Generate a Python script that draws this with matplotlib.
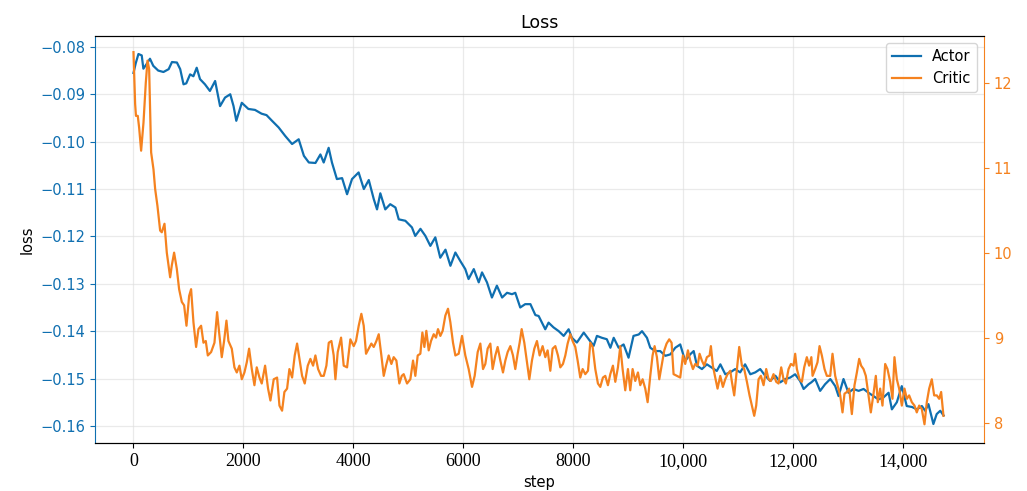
import numpy as np
import matplotlib
matplotlib.use('Agg')
import matplotlib.pyplot as plt

# Actor loss (left axis)
actor_steps = [0, 40, 90, 150, 180, 240, 300, 360, 450, 545, 640, 700, 790, 850, 910, 960,
               1030, 1090, 1150, 1210, 1300, 1390, 1485, 1575, 1665, 1760, 1820, 1870, 1970,
               2090, 2210, 2330, 2420, 2520, 2640, 2760, 2885, 3005, 3100, 3190, 3310, 3400,
               3460, 3550, 3610, 3700, 3795, 3885, 3975, 4095, 4190, 4280, 4370, 4430, 4490,
               4580, 4670, 4765, 4825, 4945, 5065, 5125, 5220, 5310, 5400, 5490, 5580, 5675,
               5765, 5855, 5945, 6035, 6095, 6190, 6280, 6340, 6430, 6520, 6610, 6705, 6795,
               6885, 6945, 7035, 7125, 7220, 7310, 7370, 7430, 7490, 7550, 7640, 7735, 7825,
               7915, 7975, 8065, 8190, 8280, 8370, 8430, 8520, 8610, 8675, 8735, 8825, 8915,
               9005, 9095, 9190, 9250, 9340, 9400, 9490, 9580, 9675, 9765, 9855, 9945, 10035,
               10125, 10190, 10250, 10340, 10430, 10520, 10610, 10675, 10765, 10855, 10945,
               11035, 11125, 11220, 11310, 11400, 11490, 11580, 11675, 11765, 11855, 11945,
               12035, 12125, 12190, 12280, 12330, 12400, 12490, 12580, 12675, 12765, 12825,
               12915, 13005, 13095, 13190, 13280, 13370, 13460, 13550, 13640, 13735, 13795,
               13885, 13975, 14065, 14160, 14250, 14340, 14400, 14460, 14550, 14610, 14675, 14735]
actor_loss = [-0.0855, -0.0835, -0.0815, -0.0818, -0.0846, -0.0836, -0.0825, -0.0840, -0.0850,
              -0.0853, -0.0847, -0.0832, -0.0833, -0.0847, -0.0879, -0.0877, -0.0858, -0.0862,
              -0.0844, -0.0868, -0.0879, -0.0893, -0.0872, -0.0925, -0.0907, -0.0900, -0.0925,
              -0.0956, -0.0918, -0.0931, -0.0933, -0.0941, -0.0944, -0.0956, -0.0970, -0.0988,
              -0.1005, -0.0995, -0.1030, -0.1044, -0.1045, -0.1027, -0.1044, -0.1013, -0.1044,
              -0.1079, -0.1077, -0.1111, -0.1079, -0.1065, -0.1100, -0.1081, -0.1121, -0.1143,
              -0.1109, -0.1143, -0.1132, -0.1139, -0.1164, -0.1167, -0.1181, -0.1199, -0.1184,
              -0.1199, -0.1220, -0.1202, -0.1245, -0.1228, -0.1262, -0.1234, -0.1252, -0.1269,
              -0.1290, -0.1269, -0.1297, -0.1276, -0.1297, -0.1329, -0.1304, -0.1329, -0.1319,
              -0.1322, -0.1319, -0.1350, -0.1343, -0.1343, -0.1366, -0.1368, -0.1382, -0.1396,
              -0.1382, -0.1392, -0.1400, -0.1410, -0.1396, -0.1414, -0.1424, -0.1403, -0.1417,
              -0.1431, -0.1410, -0.1414, -0.1417, -0.1435, -0.1414, -0.1435, -0.1428, -0.1456,
              -0.1410, -0.1407, -0.1400, -0.1414, -0.1435, -0.1442, -0.1442, -0.1452, -0.1449,
              -0.1435, -0.1428, -0.1463, -0.1449, -0.1442, -0.1473, -0.1480, -0.1470, -0.1477,
              -0.1484, -0.1470, -0.1491, -0.1487, -0.1480, -0.1487, -0.1470, -0.1491, -0.1487,
              -0.1480, -0.1494, -0.1505, -0.1494, -0.1508, -0.1501, -0.1498, -0.1491, -0.1505,
              -0.1522, -0.1512, -0.1508, -0.1501, -0.1526, -0.1512, -0.1501, -0.1516, -0.1537,
              -0.1501, -0.1530, -0.1522, -0.1526, -0.1522, -0.1530, -0.1537, -0.1544, -0.1540,
              -0.1530, -0.1565, -0.1550, -0.1516, -0.1558, -0.1560, -0.1565, -0.1558, -0.1568,
              -0.1554, -0.1596, -0.1575, -0.1568, -0.1578]

# Critic loss (right axis)
critic_steps = [0, 30, 45, 78, 103, 139, 182, 224, 255, 285, 321, 364, 394, 436, 485, 515, 564,
                606, 667, 697, 739, 788, 830, 879, 921, 964, 1012, 1048, 1091, 1139, 1182, 1230,
                1273, 1315, 1352, 1412, 1473, 1521, 1558, 1606, 1648, 1691, 1727, 1788, 1836,
                1879, 1927, 1970, 2018, 2061, 2103, 2152, 2200, 2242, 2291, 2333, 2394, 2448,
                2491, 2551, 2612, 2655, 2703, 2745, 2794, 2836, 2885, 2933, 2976, 3024, 3067,
                3115, 3170, 3218, 3267, 3309, 3358, 3412, 3461, 3509, 3552, 3600, 3642, 3673,
                3715, 3776, 3824, 3885, 3945, 4006, 4048, 4097, 4145, 4188, 4230, 4279, 4327,
                4370, 4418, 4461, 4509, 4552, 4594, 4642, 4691, 4733, 4782, 4836, 4880, 4915,
                4976, 5036, 5085, 5127, 5170, 5218, 5255, 5291, 5327, 5370, 5412, 5461, 5503,
                5539, 5582, 5624, 5673, 5721, 5764, 5812, 5855, 5915, 5976, 6036, 6097, 6158,
                6206, 6261, 6309, 6358, 6400, 6442, 6491, 6533, 6582, 6624, 6673, 6721, 6764,
                6806, 6855, 6903, 6945, 6988, 7024, 7061, 7109, 7158, 7200, 7248, 7291, 7339,
                7388, 7442, 7491, 7533, 7582, 7624, 7673, 7721, 7764, 7812, 7855, 7897, 7945,
                7988, 8036, 8079, 8127, 8170, 8218, 8267, 8309, 8352, 8400, 8448, 8491, 8539,
                8582, 8630, 8673, 8721, 8764, 8812, 8855, 8897, 8945, 8994, 9036, 9079, 9127,
                9176, 9218, 9261, 9309, 9352, 9400, 9442, 9479, 9521, 9564, 9612, 9655, 9697,
                9745, 9788, 9824, 9885, 9945, 9994, 10036, 10085, 10127, 10176, 10218, 10261,
                10297, 10339, 10382, 10430, 10479, 10503, 10539, 10582, 10624, 10673, 10721,
                10764, 10806, 10855, 10885, 10927, 10976, 11018, 11067, 11109, 11158, 11206,
                11248, 11291, 11327, 11370, 11412, 11461, 11509, 11552, 11594, 11642, 11691,
                11733, 11782, 11824, 11867, 11915, 11958, 12006, 12036, 12067, 12115, 12158,
                12200, 12248, 12290, 12330, 12352, 12400, 12442, 12479, 12521, 12570, 12612,
                12673, 12715, 12764, 12806, 12855, 12897, 12933, 12976, 13018, 13067, 13115,
                13158, 13200, 13236, 13279, 13321, 13370, 13412, 13461, 13503, 13539, 13582,
                13624, 13673, 13715, 13764, 13806, 13842, 13885, 13927, 13976, 14024, 14067,
                14109, 14158, 14206, 14248, 14291, 14339, 14388, 14430, 14473, 14521, 14564,
                14612, 14655, 14691, 14733]
critic_loss = [12.36, 11.75, 11.61, 11.61, 11.47, 11.20, 11.53, 12.00, 12.26, 12.16, 11.18,
               10.98, 10.75, 10.55, 10.26, 10.24, 10.34, 10.00, 9.71, 9.85, 10.00, 9.81, 9.57,
               9.42, 9.38, 9.14, 9.49, 9.57, 9.18, 8.89, 9.10, 9.14, 8.94, 8.96, 8.79, 8.83,
               8.94, 9.30, 9.06, 8.77, 8.96, 9.20, 8.96, 8.87, 8.65, 8.59, 8.67, 8.51, 8.59,
               8.71, 8.87, 8.63, 8.44, 8.65, 8.53, 8.46, 8.67, 8.40, 8.26, 8.51, 8.53, 8.20,
               8.14, 8.36, 8.40, 8.63, 8.53, 8.79, 8.93, 8.73, 8.55, 8.46, 8.67, 8.75, 8.67,
               8.79, 8.63, 8.55, 8.55, 8.67, 8.94, 8.96, 8.79, 8.51, 8.83, 9.00, 8.67, 8.65,
               8.98, 8.90, 8.96, 9.14, 9.28, 9.14, 8.81, 8.87, 8.93, 8.89, 8.96, 9.04, 8.79,
               8.55, 8.67, 8.79, 8.69, 8.77, 8.73, 8.46, 8.55, 8.57, 8.46, 8.51, 8.73, 8.55,
               8.79, 8.81, 9.06, 8.89, 9.08, 8.85, 8.96, 9.04, 9.00, 9.10, 9.02, 9.08, 9.26,
               9.34, 9.18, 8.94, 8.79, 8.81, 9.02, 8.79, 8.63, 8.42, 8.55, 8.83, 8.93, 8.63,
               8.69, 8.87, 8.93, 8.63, 8.79, 8.89, 8.73, 8.59, 8.73, 8.83, 8.90, 8.79, 8.63,
               8.81, 8.94, 9.10, 8.94, 8.71, 8.51, 8.73, 8.87, 8.96, 8.79, 8.90, 8.77, 8.85,
               8.61, 8.87, 8.90, 8.79, 8.65, 8.69, 8.79, 8.93, 9.04, 8.96, 8.89, 8.73, 8.53,
               8.63, 8.57, 8.61, 8.94, 8.89, 8.63, 8.46, 8.42, 8.53, 8.55, 8.44, 8.57, 8.67,
               8.48, 8.65, 8.90, 8.63, 8.38, 8.63, 8.38, 8.63, 8.49, 8.59, 8.44, 8.51, 8.40,
               8.24, 8.55, 8.79, 8.90, 8.77, 8.51, 8.69, 8.85, 8.93, 8.98, 8.94, 8.57, 8.55,
               8.53, 8.79, 8.69, 8.85, 8.73, 8.63, 8.69, 8.67, 8.81, 8.73, 8.67, 8.77, 8.79,
               8.90, 8.67, 8.53, 8.40, 8.55, 8.42, 8.51, 8.57, 8.61, 8.48, 8.32, 8.63, 8.89,
               8.67, 8.63, 8.48, 8.32, 8.20, 8.08, 8.20, 8.51, 8.55, 8.44, 8.63, 8.51, 8.49,
               8.57, 8.48, 8.46, 8.65, 8.51, 8.46, 8.63, 8.69, 8.67, 8.81, 8.63, 8.51, 8.48,
               8.65, 8.77, 8.67, 8.77, 8.55, 8.63, 8.71, 8.90, 8.79, 8.63, 8.55, 8.55, 8.81,
               8.55, 8.44, 8.32, 8.12, 8.34, 8.36, 8.40, 8.10, 8.44, 8.59, 8.75, 8.67, 8.63,
               8.55, 8.32, 8.12, 8.34, 8.55, 8.24, 8.40, 8.20, 8.69, 8.63, 8.48, 8.28, 8.77,
               8.51, 8.40, 8.20, 8.40, 8.28, 8.32, 8.24, 8.20, 8.12, 8.20, 8.16, 7.98, 8.24,
               8.40, 8.51, 8.32, 8.32, 8.28, 8.36, 8.08]

xticks = [0, 2000, 4000, 6000, 8000, 10000, 12000, 14000]
xtick_labels = ['0', '2000', '4000', '6000', '8000', '10,000', '12,000', '14,000']

blue = '#0f6fb0'
orange = '#f5821f'

fig = plt.figure(figsize=(10.27, 4.91), dpi=100)
ax = fig.add_axes([0.0925, 0.0978, 0.8656, 0.8289])
ax2 = ax.twinx()

l1, = ax.plot(actor_steps, actor_loss, color=blue, lw=1.6, label='Actor')
l2, = ax2.plot(critic_steps, critic_loss, color=orange, lw=1.6, label='Critic')

ax.set_xlim(-700, 15470)
ax.set_ylim(-0.1636, -0.0777)
ax2.set_ylim(7.76, 12.55)

ax.set_yticks([-0.08, -0.09, -0.10, -0.11, -0.12, -0.13, -0.14, -0.15, -0.16])
ax.set_yticklabels(['−0.08', '−0.09', '−0.10', '−0.11', '−0.12', '−0.13', '−0.14', '−0.15', '−0.16'])
ax2.set_yticks([8, 9, 10, 11, 12])
ax.set_xticks(xticks, xtick_labels, fontfamily='Liberation Serif', fontsize=13)

ax.tick_params(axis='y', colors=blue, labelsize=10.5)
ax2.tick_params(axis='y', colors=orange, labelsize=10.5)
ax.tick_params(axis='x', labelsize=13)

ax.spines['left'].set_color(blue)
ax.spines['right'].set_visible(False)
ax2.spines['left'].set_visible(False)
ax2.spines['right'].set_color(orange)

ax.grid(True, color='#dddddd', lw=0.9, alpha=0.6)
ax.set_axisbelow(True)

ax.set_xlabel('step', fontsize=10.5)
ax.set_ylabel('loss', fontsize=10.5)
ax.set_title('Loss', fontsize=12.5)

ax2.legend([l1, l2], ['Actor', 'Critic'], loc='upper right', fontsize=10.5)

fig.savefig('out.png', dpi=100)
